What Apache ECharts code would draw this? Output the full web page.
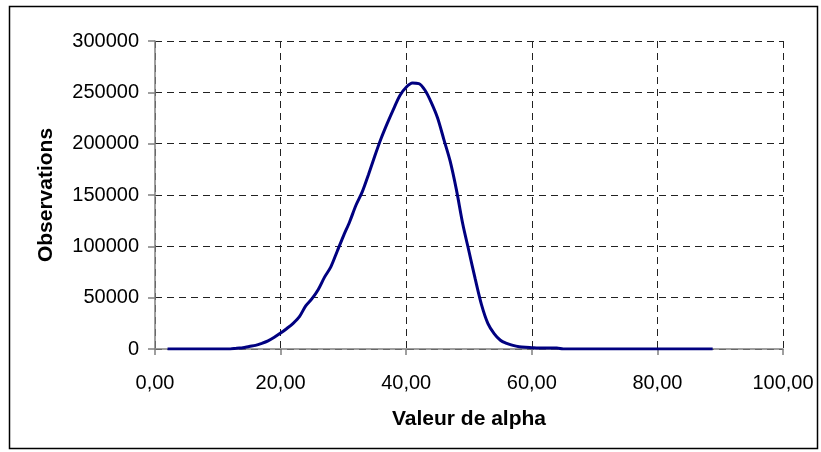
<!DOCTYPE html>
<html>
<head>
<meta charset="utf-8">
<script src="https://cdn.jsdelivr.net/npm/echarts@6/dist/echarts.min.js"></script>
<style>
html,body{margin:0;padding:0;background:#fff;}
#chart{width:821px;height:452px;}
</style>
</head>
<body>
<div id="chart"></div>
<script>
var alphaValues = [2,3,4,5,6,7,8,9,10,11,12,13,14,15,16,17,18,19,20,21,22,23,24,25,26,27,28,29,30,31,32,33,34,35,36,37,38,39,40,41,42,43,44,45,46,47,48,49,50,51,52,53,54,55,56,57,58,59,60,61,62,63,64,65,66,67,68,69,70,71,72,73,74,75,76,77,78,79,80,81,82,83,84,85,86,87,88,88.8];
var observations = [0,0,0,0,0,0,0,0,0,0,0,800,1200,2500,3500,5500,8000,11500,15500,20000,25000,31500,42000,49000,58000,70000,80000,95000,110000,124000,140000,153000,170000,188000,205000,220000,234000,247000,255000,259000,258500,252000,240000,225000,204000,183000,155000,122000,95000,68000,43000,25000,15000,8500,5500,3500,2200,1600,1300,1000,1000,1000,1000,0,0,0,0,0,0,0,0,0,0,0,0,0,0,0,0,0,0,0,0,0,0,0,0,0];
var xTitle = 'Valeur de alpha';
var yTitle = 'Observations';

var seriesData = alphaValues.map(function(a, i){ return [a, observations[i]]; });

var chart = echarts.init(document.getElementById('chart'), null, {renderer:'canvas'});
var gridStyle = {show:true, lineStyle:{color:'#222', width:1, type:[7,5]}};
chart.setOption({
  animation:false,
  backgroundColor:'#fff',
  textStyle:{fontFamily:'Liberation Sans, Arial, sans-serif'},
  graphic:[{type:'rect', shape:{x:9.5,y:6.5,width:808,height:442}, style:{fill:'none', stroke:'#000', lineWidth:1.5}, silent:true}],
  grid:{left:155, right:38, top:41, bottom:103, containLabel:false},
  xAxis:{
    type:'value', min:0, max:100, interval:20,
    name:xTitle, nameLocation:'middle', nameGap:60,
    nameTextStyle:{fontSize:21, fontWeight:'bold', color:'#000', fontFamily:'Liberation Sans, Arial, sans-serif'},
    axisLine:{show:true, onZero:false, lineStyle:{color:'#808080', width:1.5}},
    axisTick:{show:true, inside:false, length:6, lineStyle:{color:'#808080', width:1.5}},
    axisLabel:{fontSize:20, color:'#000', margin:24, formatter:function(v){return v.toFixed(2).replace('.',',');}},
    splitLine:gridStyle
  },
  yAxis:{
    type:'value', min:0, max:300000, interval:50000,
    name:yTitle, nameLocation:'middle', nameGap:98, nameRotate:90,
    nameTextStyle:{fontSize:21, fontWeight:'bold', color:'#000', fontFamily:'Liberation Sans, Arial, sans-serif'},
    axisLine:{show:true, lineStyle:{color:'#808080', width:1.5}},
    axisTick:{show:true, inside:false, length:7, lineStyle:{color:'#808080', width:1.5}},
    axisLabel:{fontSize:20, color:'#000', margin:16, formatter:function(v){return String(v);}},
    splitLine:gridStyle
  },
  series:[{
    type:'line', data:seriesData, showSymbol:false, smooth:0.3,
    lineStyle:{color:'#000080', width:3}, z:5
  }]
});
</script>
</body>
</html>
